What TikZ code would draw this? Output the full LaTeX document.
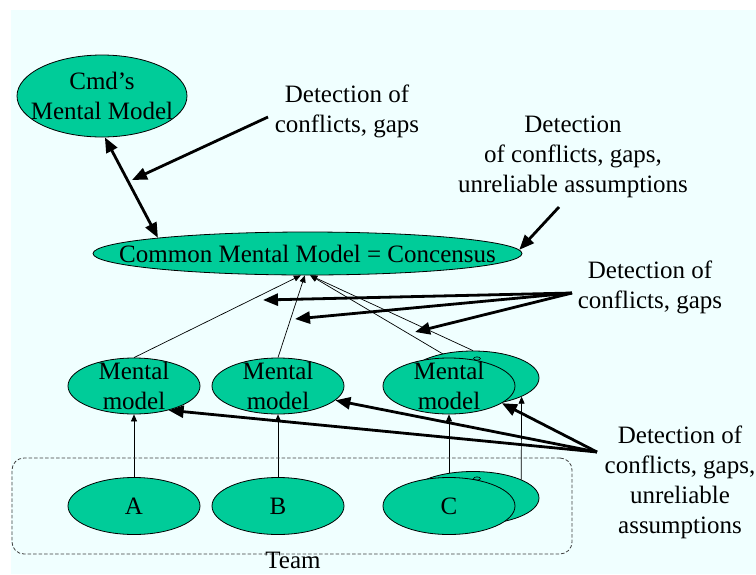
\documentclass[tikz,border=0pt]{standalone}
\usepackage{fontspec}
\setmainfont{Liberation Serif}
\usetikzlibrary{shapes.geometric,arrows.meta,backgrounds}
\definecolor{panel}{RGB}{240,255,255}
\definecolor{modelgreen}{RGB}{0,204,153}

\begin{document}
\begin{tikzpicture}[x=1pt,y=-1pt,
  model/.style={ellipse,draw=black,line width=0.8pt,fill=modelgreen,inner sep=0pt},
  txt/.style={font=\fontsize{25}{30}\selectfont,align=center,inner sep=0pt},
  bigarrow/.style={line width=2.8pt,-{Triangle[length=15pt,width=12pt]}},
  smallarrow/.style={line width=0.7pt,-{Triangle[length=7pt,width=6pt]}},
  teamframe/.style={draw=black!75,dash pattern=on 3.5pt off 2pt,line width=0.8pt,rounded corners=12pt,inner sep=0pt}
]
\useasboundingbox (0,0) rectangle (756,574);

% team frame
\node[teamframe,minimum width=560pt,minimum height=96pt] (teambox) at (292,506) {};
\node[txt,anchor=base] (teamlabel) at (293,568) {Team};

% commander and shared model
\node[model,minimum width=170pt,minimum height=82pt] (cmd) at (102,96) {};
\node[txt] (cmdtext) at (cmd.center) {Cmd’s\\Mental Model};
\node[model,minimum width=429pt,minimum height=43pt] (common) at (307.5,253.5) {};
\node[txt] (commontext) at (common.center) {Common Mental Model = Concensus};

% individual mental models
\node[model,minimum width=132pt,minimum height=56pt] (mmA) at (134,386) {};
\node[model,minimum width=132pt,minimum height=56pt] (mmB) at (278,386) {};
\node[model,minimum width=132pt,minimum height=54pt] (mmCb) at (473,378) {};
\draw[line width=0.6pt] (477,358.5) ellipse [x radius=3.5pt, y radius=1.6pt];
\node[model,minimum width=132pt,minimum height=56pt] (mmC) at (449,386) {};
\node[txt] (mmAt) at (mmA.center) {Mental\\model};
\node[txt] (mmBt) at (mmB.center) {Mental\\model};
\node[txt] (mmCt) at (mmC.center) {Mental\\model};

% team members
\node[model,minimum width=132pt,minimum height=57pt] (tA) at (134,506) {};
\node[model,minimum width=132pt,minimum height=57pt] (tB) at (278,506) {};
\node[model,minimum width=132pt,minimum height=53pt] (tCb) at (473,498) {};
\draw[line width=0.6pt] (477,478.5) ellipse [x radius=3.5pt, y radius=1.6pt];
\node[model,minimum width=132pt,minimum height=57pt] (tC) at (449,506) {};
\node[txt] (tAt) at (tA.center) {A};
\node[txt] (tBt) at (tB.center) {B};
\node[txt] (tCt) at (tC.center) {C};

% annotations
\node[txt] (lab1) at (347,111.2) {Detection of\\conflicts, gaps};
\node[txt] (lab2) at (573,157.2) {Detection\\of conflicts, gaps,\\unreliable assumptions};
\node[txt] (lab3) at (650,287.2) {Detection of\\conflicts, gaps};
\node[txt] (lab4) at (680,482.2) {Detection of\\conflicts, gaps,\\unreliable\\assumptions};

% thin connectors behind the shapes
\begin{scope}[on background layer]
  \fill[panel] (11,10) rectangle (756,574);
  \draw[smallarrow] (mmA.north) -- (common.-107);
  \draw[smallarrow] (mmB.north) -- (common.-97);
  \draw[smallarrow] (mmC.north) -- (common.-83);
  \draw[smallarrow] (mmCb.north) -- (common.-83);
  \draw[smallarrow] (tA.north) -- (mmA.south);
  \draw[smallarrow] (tB.north) -- (mmB.south);
  \draw[smallarrow] (tC.north) -- (mmC.south);
  \draw[smallarrow] (tCb.21) -- (mmCb.-21);
\end{scope}

% commander <-> shared model
\draw[line width=2.8pt,{Triangle[length=15pt,width=12pt]}-{Triangle[length=15pt,width=12pt]}] (cmd.-86) -- (common.174.5);

% detection pointers
\coordinate (p1) at (132,180);
\coordinate (o1) at (268,117);
\draw[bigarrow] (o1) -- (p1);
\coordinate (o2) at (559,207);
\draw[bigarrow] (o2) -- (common.1.5);

\coordinate (o3) at (572,293);
\coordinate (q1) at (263,300);
\coordinate (q2) at (295,319);
\coordinate (q3) at (415,332);
\draw[bigarrow] (o3) -- (q1);
\draw[bigarrow] (o3) -- (q2);
\draw[bigarrow] (o3) -- (q3);

\coordinate (o4) at (597,452);
\draw[bigarrow] (o4) -- (mmA.-35);
\draw[bigarrow] (o4) -- (mmB.-14);
\draw[bigarrow] (o4) -- (mmC.-18);
\end{tikzpicture}
\end{document}
